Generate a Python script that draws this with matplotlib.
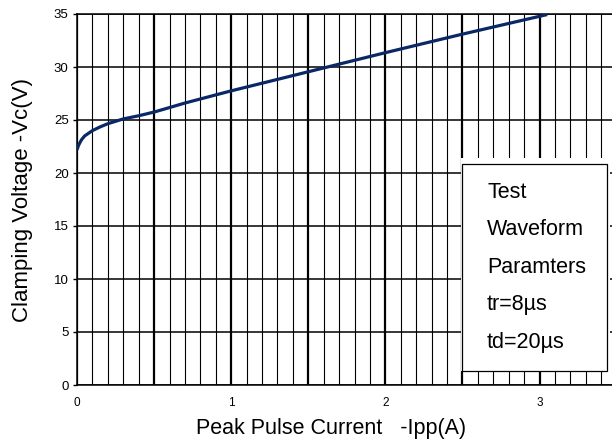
import matplotlib
matplotlib.use("Agg")
import matplotlib.pyplot as plt
import numpy as np
from matplotlib.patches import Rectangle

plt.rcParams["font.family"] = ["Liberation Sans", "DejaVu Sans"]

# curve
ipp_a = [0, 0.01, 0.02, 0.03, 0.05, 0.1, 0.15, 0.2, 0.3, 0.4, 0.5, 0.7, 1.0, 1.5, 2.0, 2.5, 3.05]
vc_v = [22.2, 22.6, 22.9, 23.15, 23.5, 24.0, 24.35, 24.65, 25.1, 25.4, 25.75, 26.6, 27.75, 29.55, 31.35, 33.1, 34.95]

x_major = [0, 0.5, 1, 1.5, 2, 2.5, 3]
x_labels = ["0", "", "1", "", "2", "", "3"]
y_major = [0, 5, 10, 15, 20, 25, 30, 35]
box_lines = ["Test", "Waveform", "Paramters", "tr=8µs", "td=20µs"]
box_y = [18.2, 14.7, 11.1, 7.55, 4.05]

fig = plt.figure(figsize=(6.12, 4.45), dpi=100)
ax = fig.add_axes([77 / 612, 1 - 385 / 445, 1 - 77 / 612, (385 - 14) / 445])

ax.set_xlim(0, 3.47)
ax.set_ylim(0, 35)
ax.set_xticks(x_major, x_labels)
ax.set_xticks(np.arange(0, 3.5, 0.1), minor=True)
ax.set_yticks(y_major)
ax.tick_params(axis="x", which="both", length=0, pad=9, labelsize=8.5)
ax.tick_params(axis="y", which="major", length=3, width=1, pad=3, labelsize=9.5)

ax.set_axisbelow(True)
ax.grid(True, axis="x", which="minor", color="black", linewidth=0.8)
ax.grid(True, axis="x", which="major", color="black", linewidth=1.6)
ax.grid(True, axis="y", which="major", color="black", linewidth=1.1)
for side in ("left", "bottom", "top"):
    ax.spines[side].set_linewidth(1.1)
ax.spines["right"].set_visible(False)

ax.plot(ipp_a, vc_v, color="#0a2866", linewidth=2.3, zorder=3, solid_capstyle="butt")

# parameter box
ax.add_patch(Rectangle((2.49, 1.32), 0.97, 20.1, facecolor="white", edgecolor="none", zorder=2))
ax.add_patch(Rectangle((2.5, 1.32), 0.935, 19.53, facecolor="white", edgecolor="black",
                       linewidth=0.9, zorder=2))
for txt, yy in zip(box_lines, box_y):
    ax.text(2.66, yy, txt, fontsize=15.5, va="center", ha="left", zorder=4)

ax.set_xlabel("Peak Pulse Current   -Ipp(A)", fontsize=15.5)
ax.set_ylabel("Clamping Voltage -Vc(V)", fontsize=16)
ax.xaxis.set_label_coords(0.474, -0.09)
ax.yaxis.set_label_coords(-0.083, 0.5)

fig.savefig("out.png", dpi=100)
